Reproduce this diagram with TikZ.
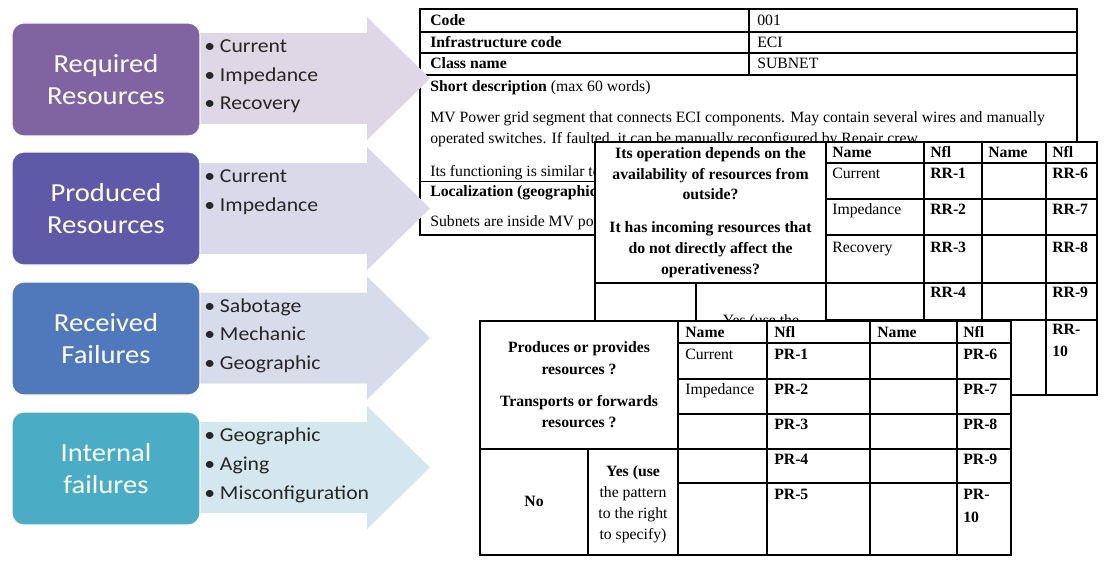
\documentclass[tikz,border=0pt]{standalone}
\usepackage{fontspec}
\setmainfont{Liberation Serif}
\newfontfamily\calibfont[FakeStretch=1.1]{Carlito}
\usepackage{xcolor}

\definecolor{reqcol}{HTML}{8064A2}
\definecolor{prodcol}{HTML}{5F5AA8}
\definecolor{recvcol}{HTML}{5079BC}
\definecolor{intcol}{HTML}{4BACC6}
\definecolor{reqarr}{HTML}{DED8E6}
\definecolor{prodarr}{HTML}{DAD9EA}
\definecolor{recvarr}{HTML}{D7DCEA}
\definecolor{intarr}{HTML}{D5E7EE}

\begin{document}
\begin{tikzpicture}[
    x=0.75pt, y=-0.75pt,
    catbox/.style={draw=white, line width=0.8pt, rounded corners=9pt, minimum width=141pt, minimum height=84.75pt, align=center, text=white, font=\calibfont\fontsize{19.5}{24}\selectfont},
    bul/.style={anchor=base west, inner sep=0pt, align=left, text=black!85, font=\calibfont\fontsize{14.8}{21.4}\selectfont},
    tbl/.style={line width=0.9pt},
    cell/.style={anchor=base west, inner sep=0pt, font=\fontsize{11.8}{13}\selectfont},
    bcell/.style={cell, font=\fontsize{11.8}{16.5}\selectfont\bfseries, align=left},
    qtext/.style={anchor=base, inner sep=0pt, align=center, font=\fontsize{11.8}{15.5}\selectfont\bfseries}
]
\useasboundingbox (0,0) rectangle (1105,563);

\filldraw[tbl, fill=white] (420,9) rectangle (1077,235);
\draw[tbl] (420,32) -- (1077,32) (420,53) -- (1077,53) (420,75) -- (1077,75) (420,181.5) -- (1077,181.5) (749,9) -- (749,75);
\node[bcell] (code) at (430,25.5) {Code};
\node[cell] (codev) at (757,25.5) {001};
\node[bcell] (infra) at (430,47.5) {Infrastructure code};
\node[cell] (infrav) at (757,47.5) {ECI};
\node[bcell] (cls) at (430,69) {Class name};
\node[cell] (clsv) at (757,69) {SUBNET};
\node[cell] (sdesc) at (430,91.5) {\textbf{Short description} (max 60 words)};
\node[cell] (desc1) at (430,122.5) {MV Power grid segment that connects ECI components. May contain several wires and manually};
\node[cell] (desc2) at (430,143.5) {operated switches. If faulted, it can be manually reconfigured by Repair crew.};
\node[cell] (desc3) at (430,176.5) {Its functioning is similar to};
\node[bcell] (loc) at (430,196.5) {Localization (geographic};
\node[cell] (locv) at (430,226.5) {Subnets are inside MV power};

\fill[reqarr] (150,33) -- (367,33) -- (367,17) -- (430,78.5) -- (367,140) -- (367,124) -- (150,124) -- cycle;
\fill[prodarr] (150,163) -- (367,163) -- (367,147) -- (430,208.5) -- (367,270) -- (367,254) -- (150,254) -- cycle;
\fill[recvarr] (150,292.5) -- (367,292.5) -- (367,276.5) -- (430,338) -- (367,399.5) -- (367,383.5) -- (150,383.5) -- cycle;
\fill[intarr] (150,422) -- (367,422) -- (367,406) -- (430,467.5) -- (367,529) -- (367,513) -- (150,513) -- cycle;

\node[catbox, fill=reqcol] (req) at (106,79.5) {Required\\Resources};
\node[catbox, fill=prodcol] (prod) at (106,208.5) {Produced\\Resources};
\node[catbox, fill=recvcol] (recv) at (106,338.5) {Received\\Failures};
\node[catbox, fill=intcol] (intf) at (106,468.5) {Internal\\failures};

\node[bul] (reqlist) at (204,110) {• Current\\• Impedance\\• Recovery};
\node[bul] (prodlist) at (204,211.5) {• Current\\• Impedance};
\node[bul] (recvlist) at (204,369.5) {• Sabotage\\• Mechanic\\• Geographic};
\node[bul] (intlist) at (204,499) {• Geographic\\• Aging\\• Misconfiguration};

\filldraw[tbl, fill=white] (595,142) rectangle (1097,395);
\draw[tbl] (826,142) -- (826,395) (924,142) -- (924,395) (982,142) -- (982,395) (1046,142) -- (1046,395) (696,283) -- (696,395);
\draw[tbl] (826,163) -- (1097,163) (826,199) -- (1097,199) (826,235) -- (1097,235) (595,283) -- (1097,283) (826,320) -- (1097,320);
\node[qtext] (dep) at (710.5,199.8) {Its operation depends on the\\availability of resources from\\outside?};
\node[qtext] (inc) at (710.5,274) {It has incoming resources that\\do not directly affect the\\operativeness?};
\node[cell, anchor=base] (rryes) at (761,325) {Yes (use the};
\node[bcell] (rrname) at (832,157.5) {Name};
\node[bcell] (rrnfl) at (930,157.5) {Nfl};
\node[bcell] (rrname2) at (988,157.5) {Name};
\node[bcell] (rrnfl2) at (1052,157.5) {Nfl};
\node[cell] (rrcur) at (832,178.5) {Current};
\node[bcell] (rr1) at (930,178.5) {RR-1};
\node[bcell] (rr6) at (1052,178.5) {RR-6};
\node[cell] (rrimp) at (832,214.5) {Impedance};
\node[bcell] (rr2) at (930,214.5) {RR-2};
\node[bcell] (rr7) at (1052,214.5) {RR-7};
\node[cell] (rrrec) at (832,252.5) {Recovery};
\node[bcell] (rr3) at (930,252.5) {RR-3};
\node[bcell] (rr8) at (1052,252.5) {RR-8};
\node[bcell] (rr4) at (930,297.5) {RR-4};
\node[bcell] (rr9) at (1052,297.5) {RR-9};
\node[bcell] (rr10) at (1052,356.5) {RR-\\10};

\filldraw[tbl, fill=white] (480,321) rectangle (1011,555);
\draw[tbl] (678,321) -- (678,555) (767,321) -- (767,555) (870,321) -- (870,555) (957,321) -- (957,555) (588,449) -- (588,555);
\draw[tbl] (678,343) -- (1011,343) (678,379) -- (1011,379) (678,414) -- (1011,414) (480,449) -- (1011,449) (678,483) -- (1011,483);
\node[qtext, font=\fontsize{11.8}{16.5}\selectfont\bfseries] (prov) at (579,374.5) {Produces or provides\\resources ?};
\node[qtext, font=\fontsize{11.8}{16}\selectfont\bfseries] (fwd) at (579,427.8) {Transports or forwards\\resources ?};
\node[bcell, anchor=base] (prno) at (534,506.5) {No};
\node[qtext, font=\fontsize{11.8}{15.75}\selectfont] (pryes) at (633,539.5) {\textbf{Yes (use}\\the pattern\\to the right\\to specify)};
\node[bcell] (prname) at (685,337.5) {Name};
\node[bcell] (prnfl) at (774,337.5) {Nfl};
\node[bcell] (prname2) at (877,337.5) {Name};
\node[bcell] (prnfl2) at (963,337.5) {Nfl};
\node[cell] (prcur) at (685,359.5) {Current};
\node[bcell] (pr1) at (774,359.5) {PR-1};
\node[bcell] (pr6) at (963,359.5) {PR-6};
\node[cell] (primp) at (685,394.5) {Impedance};
\node[bcell] (pr2) at (774,394.5) {PR-2};
\node[bcell] (pr7) at (963,394.5) {PR-7};
\node[bcell] (pr3) at (774,429.5) {PR-3};
\node[bcell] (pr8) at (963,429.5) {PR-8};
\node[bcell] (pr4) at (774,464.5) {PR-4};
\node[bcell] (pr9) at (963,464.5) {PR-9};
\node[bcell] (pr5) at (774,499.5) {PR-5};
\node[bcell, font=\fontsize{11.8}{17}\selectfont\bfseries] (pr10) at (963,522.2) {PR-\\10};

\end{tikzpicture}
\end{document}
